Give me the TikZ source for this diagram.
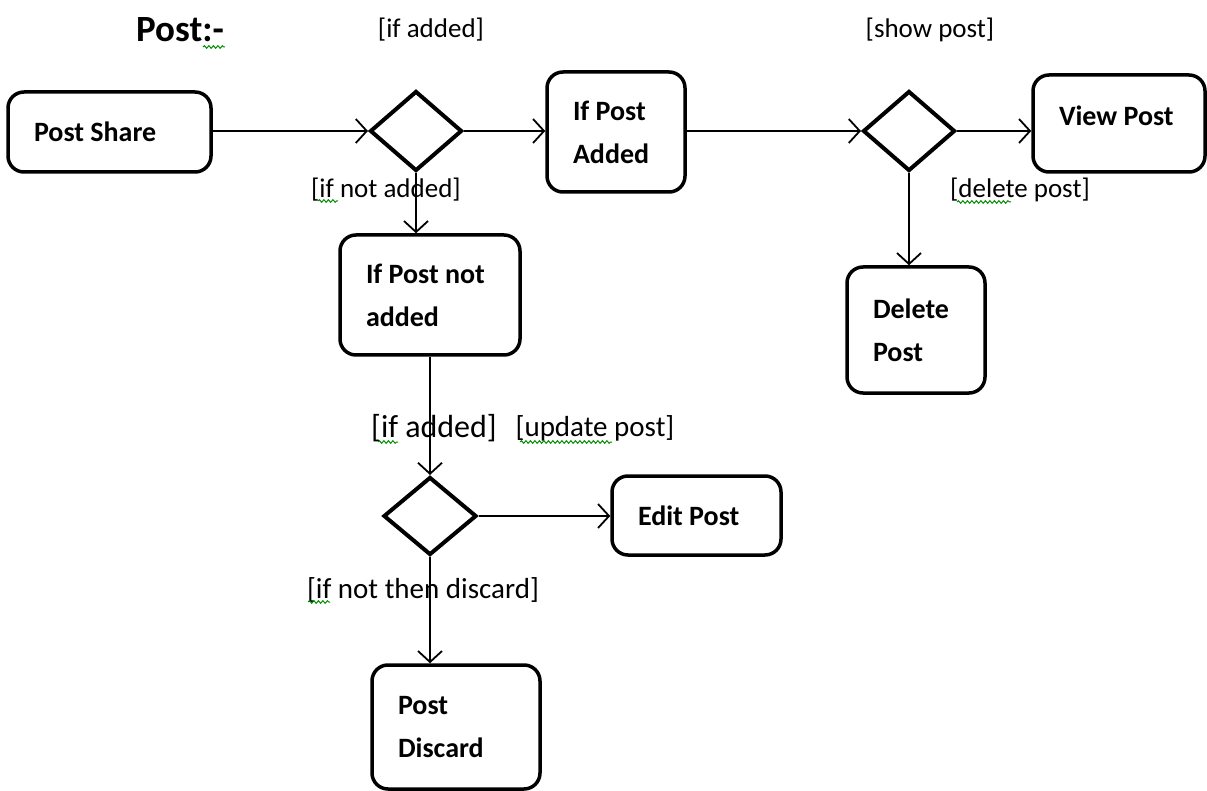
\documentclass[tikz,border=0pt]{standalone}
\usepackage{fontspec}
\setmainfont{Carlito}
\usetikzlibrary{shapes.geometric,arrows.meta,decorations.pathmorphing}

\tikzset{
  stepbox/.style={draw, line width=3.5pt, rounded corners=16pt, align=flush left,
    inner xsep=26pt, inner ysep=0pt,
    font=\fontsize{28}{43}\selectfont\bfseries},
  choice/.style={draw, diamond, line width=4pt, inner sep=0pt},
  flow/.style={line width=1.8pt, -{Straight Barb[length=11pt,width=24pt,line width=1.8pt]}},
  guard/.style={inner sep=0pt, font=\fontsize{27}{30}\selectfont},
  squiggle/.style={draw=green!55!black, line width=1pt,
    decorate, decoration={snake, amplitude=1.3pt, segment length=4.5pt}}
}

\begin{document}
\begin{tikzpicture}[x=1pt, y=-1pt]
  \useasboundingbox (0,0) rectangle (1207,791);

  % title
  \node[inner sep=0pt, font=\fontsize{37}{40}\selectfont\bfseries] (title) at (180,30) {Post:-};

  % activity boxes
  \node[stepbox, text width=151pt, minimum height=80pt]  (share)   at (109.5,132) {Post Share};
  \node[stepbox, text width=86pt,  minimum height=120pt] (added)   at (616,132)   {If Post\\Added};
  \node[stepbox, text width=120pt, minimum height=97pt]  (view)    at (1119,123.5) {View Post\\[-27pt]\mbox{}};
  \node[stepbox, text width=86pt,  minimum height=126pt] (delete)  at (916,330)   {Delete\\Post};
  \node[stepbox, text width=128pt, minimum height=120pt] (notadd)  at (430,295)   {If Post not\\added};
  \node[stepbox, text width=117pt, minimum height=79pt]  (edit)    at (696.5,515.5) {Edit Post};
  \node[stepbox, text width=116pt, minimum height=124pt] (discard) at (456,727)   {Post\\Discard};

  % decision diamonds
  \node[choice, minimum width=92pt, minimum height=80pt] (d1) at (416,131) {};
  \node[choice, minimum width=92pt, minimum height=80pt] (d2) at (909,131) {};
  \node[choice, minimum width=93pt, minimum height=78pt] (d3) at (430,516) {};

  % connectors
  \draw[flow] (share.east |- d1.west) -- (d1.west);
  \draw[flow] (d1.east) -- (added.west |- d1.east);
  \draw[flow] (added.east |- d2.west) -- (d2.west);
  \draw[flow] (d2.east) -- (view.west |- d2.east);
  \draw[flow] (d2.south) -- (d2.south |- delete.north);
  \draw[flow] (d1.south) -- (d1.south |- notadd.north);
  \draw[flow] (notadd.south) -- (d3.north);
  \draw[flow] (d3.east) -- (edit.west |- d3.east);
  \draw[flow] (d3.south) -- (d3.south |- discard.north);

  % guard labels
  \node[guard] (g1) at (431,30)  {[if added]};
  \node[guard] (g2) at (930,30)  {[show post]};
  \node[guard] (g3) at (386,190) {[if not added]};
  \node[guard] (g4) at (1020,190) {[delete post]};
  \node[guard, font=\fontsize{32}{36}\selectfont] (g5) at (434,428) {[if added]};
  \node[guard, font=\fontsize{29}{33}\selectfont] (g6) at (595,428) {[update post]};
  \node[guard, font=\fontsize{29}{33}\selectfont] (g7) at (423,590) {[if not then discard]};

  % spell-check underlines
  \path[squiggle] (203,47) -- (225,47);
  \path[squiggle] (318,201) -- (338,201);
  \path[squiggle] (957,202) -- (1011,202);
  \path[squiggle] (378,442) -- (398,442);
  \path[squiggle] (520,442) -- (612,442);
  \path[squiggle] (308,602) -- (330,602);
\end{tikzpicture}
\end{document}
